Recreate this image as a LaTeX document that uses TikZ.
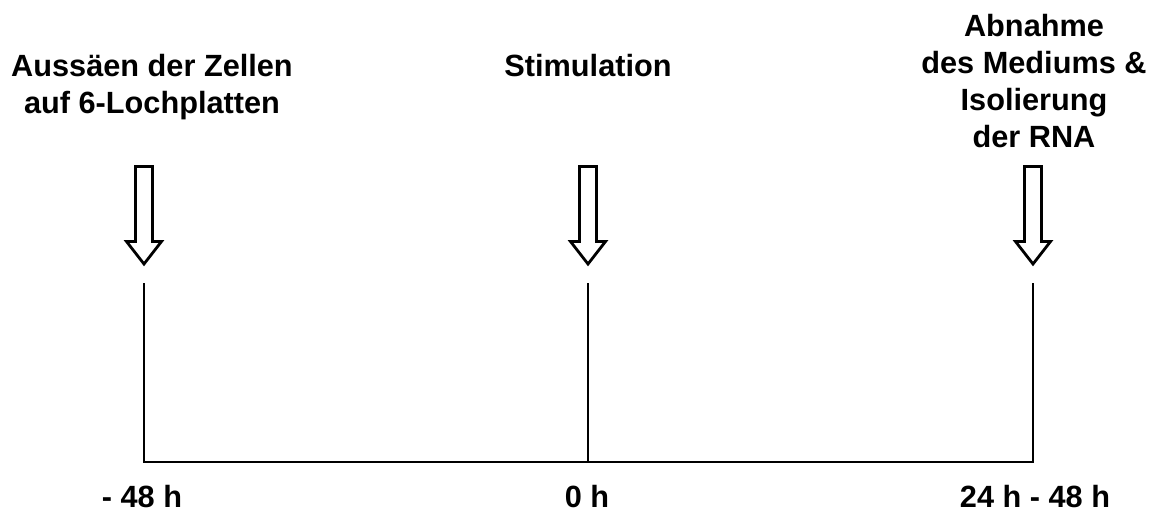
\documentclass[tikz,border=0pt]{standalone}
\usepackage{fontspec}
\setmainfont{Liberation Sans}
\begin{document}
\begin{tikzpicture}[x=1pt,y=-1pt,
  lbl/.style={font=\bfseries\fontsize{30.7}{37}\selectfont, inner sep=0pt, align=center, anchor=base},
  tline/.style={line width=2.8pt, line join=miter},
  downarrow/.pic={\draw[tline] (-8.5,0) -- (8.5,0) -- (8.5,75) -- (17.5,75) -- (0,97.5) -- (-17.5,75) -- (-8.5,75) -- cycle;}]
\useasboundingbox (0,0) rectangle (1157,514);
% labels (base anchor = baseline of the last line)
\node[lbl] (seed) at (152,113) {Aussäen der Zellen\\auf 6-Lochplatten};
\node[lbl] (stim) at (588,76) {Stimulation};
\node[lbl] (harv) at (1034,147) {Abnahme\\des Mediums \&\\Isolierung\\der RNA};
% arrows
\pic at (144,166.5) {downarrow};
\pic at (588,166.5) {downarrow};
\pic at (1033,166.5) {downarrow};
% timeline
\coordinate (a1) at (144,283);
\coordinate (a2) at (588,283);
\coordinate (a3) at (1033,283);
\coordinate (t1) at (144,462);
\coordinate (t2) at (588,462);
\coordinate (t3) at (1033,462);
\draw[tline] (a1) -- (t1) -- (t3) -- (a3);
\draw[tline] (a2) -- (t2);
% time labels
\node[lbl] (h1) at (142,507) {- 48 h};
\node[lbl] (h2) at (587,507) {0 h};
\node[lbl] (h3) at (1035,507) {24 h - 48 h};
\end{tikzpicture}
\end{document}
